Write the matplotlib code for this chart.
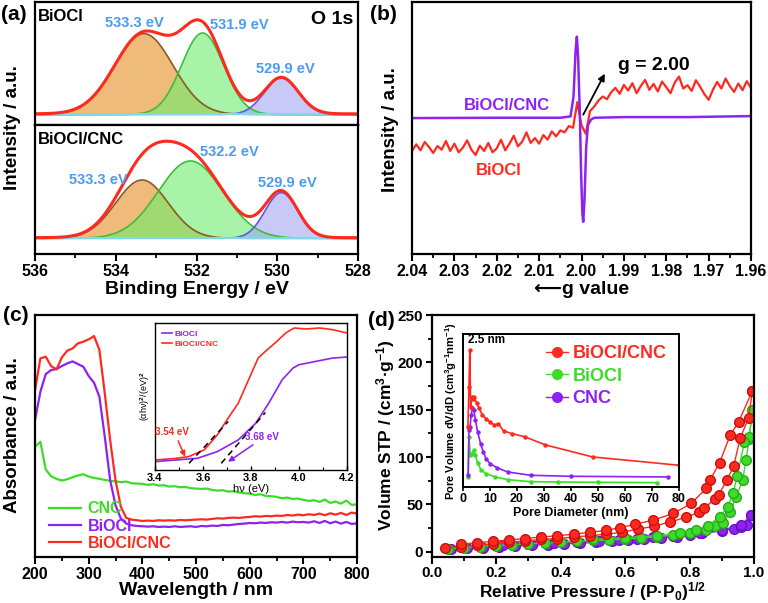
import numpy as np
import matplotlib

matplotlib.use("Agg")
import matplotlib.pyplot as plt
from matplotlib.lines import Line2D
from matplotlib.ticker import MultipleLocator

plt.rcParams["font.family"] = ["Liberation Sans", "DejaVu Sans"]
plt.rcParams["font.weight"] = "bold"
plt.rcParams["axes.labelweight"] = "bold"
plt.rcParams["axes.linewidth"] = 1.6
plt.rcParams["mathtext.fontset"] = "custom"
plt.rcParams["mathtext.rm"] = "Liberation Sans:bold"
plt.rcParams["mathtext.bf"] = "Liberation Sans:bold"
plt.rcParams["mathtext.it"] = "Liberation Sans:bold:italic"
plt.rcParams["mathtext.default"] = "bf"

RED = "#ff2a1f"
PURPLE = "#8e22f0"
GREEN = "#3ddc2a"
BLUE_TXT = "#4a9cf2"

# ---- (a) XPS O 1s: fitted peak parameters (center eV, height, sigma)
xps_top_centers = [533.3, 531.85, 529.9]
xps_top_heights = [246, 248, 111]
xps_top_sigmas = [0.72, 0.52, 0.42]
xps_bot_centers = [533.35, 532.15, 529.9]
xps_bot_heights = [175, 232, 137]
xps_bot_sigmas = [0.65, 0.80, 0.40]

# ---- (b) EPR
epr_red = [318, 338, 320, 345, 330, 312, 333, 322, 348, 318, 340, 314, 328, 350, 322, 306, 334, 318, 342, 314,
           326, 352, 320, 340, 364, 332, 346, 374, 342, 357, 340, 366, 352, 377, 362,
           380, 374, 393, 388, 465, 395, 370, 438,
           452, 470, 482, 474, 495, 508, 490, 517, 500, 522, 492, 514, 532, 502, 520, 497, 527, 510, 492, 524,
           542, 506, 516, 499, 531, 511, 489, 472, 502, 526, 506, 536, 513, 496, 521, 501, 528, 508]
epr_purple_g = [2.040, 2.020, 2.005, 2.0026, 2.0019, 2.0014, 2.0011, 2.0008, 2.0004, 2.0001, 1.9998, 1.9996,
                1.9993, 1.9989, 1.9985, 1.9978, 1.9970, 1.990, 1.975, 1.960]
epr_purple = [417, 418, 418, 422, 480, 620, 662, 600, 430, 250, 130, 105, 170, 330, 395, 412, 418, 420, 420, 423]

# ---- (c) UV-vis
wavelength = list(range(200, 801, 10))
uv_cnc = [330, 345, 262, 242, 234, 229, 233, 239, 244, 248,
          241, 237, 234, 231, 228, 227, 224, 226, 221, 220,
          219, 216, 218, 214, 215, 211, 212, 209, 210, 206,
          205, 204, 205, 201, 199, 200, 196, 197, 193, 191,
          190, 186, 188, 183, 182, 180, 176, 178, 174, 175,
          171, 168, 170, 165, 172, 162, 166, 160, 169, 156,
          158]
uv_biocl = [410, 495, 548, 560, 563, 572, 580, 586, 578, 570,
            542, 522, 480, 360, 230, 155, 115, 100, 95, 93,
            92, 91, 92, 90, 91, 90, 92, 90, 91, 92,
            90, 93, 92, 94, 93, 96, 95, 97, 99, 100,
            102, 101, 103, 102, 104, 103, 105, 103, 106, 104,
            105, 103, 107, 102, 108, 101, 106, 100, 105, 99,
            101]
uv_comp = [500, 595, 600, 572, 562, 598, 618, 625, 640, 645,
           652, 662, 620, 490, 350, 230, 150, 117, 112, 110,
           108, 109, 108, 110, 109, 110, 109, 111, 110, 111,
           112, 113, 112, 114, 116, 115, 117, 118, 117, 119,
           120, 122, 121, 123, 122, 124, 123, 126, 124, 127,
           125, 128, 126, 130, 125, 131, 127, 132, 126, 133,
           130]

# (c) inset Tauc plot
tauc_comp_x = [3.40, 3.478, 3.54, 3.605, 3.66, 3.70, 3.747, 3.79, 3.83, 3.86, 3.90, 3.945, 3.98, 4.03, 4.087, 4.14, 4.20]
tauc_comp_y = [30, 34, 40, 60, 105, 150, 200, 270, 335, 355, 380, 410, 425, 422, 425, 420, 410]
tauc_biocl_x = [3.40, 3.577, 3.66, 3.747, 3.82, 3.874, 3.93, 3.975, 4.00, 4.07, 4.14, 4.20]
tauc_biocl_y = [25, 35, 55, 90, 140, 200, 270, 305, 315, 325, 335, 338]
tangent_comp = ([3.542, 3.705], [20, 145])
tangent_biocl = ([3.676, 3.86], [20, 172])

# ---- (d) N2 isotherms
red_ads_x = [0.04, 0.09, 0.14, 0.19, 0.24, 0.29, 0.34, 0.39, 0.44, 0.49, 0.54, 0.59, 0.64, 0.69, 0.74,
             0.79, 0.83, 0.845, 0.88, 0.89, 0.916, 0.937, 0.957, 0.983, 0.995]
red_ads_y = [3.5, 5.5, 7.0, 8.5, 10.0, 11.5, 13.0, 14.0, 15.5, 17.0, 18.5, 20.5, 24.0, 27.0, 31.5,
             36.5, 42.0, 46.0, 56.0, 60.0, 75.7, 90.5, 120.0, 141.0, 170.0]
red_des_x = [0.995, 0.952, 0.926, 0.893, 0.864, 0.852, 0.805, 0.75, 0.688, 0.631, 0.585, 0.54, 0.49,
             0.44, 0.39, 0.34, 0.29, 0.24, 0.19, 0.14, 0.09]
red_des_y = [170.0, 137.0, 123.0, 94.0, 76.0, 67.0, 51.0, 40.5, 33.5, 29.0, 25.5, 22.5, 20.5,
             18.5, 17.0, 15.5, 14.0, 12.5, 11.0, 9.5, 8.0]
green_ads_x = [0.05, 0.10, 0.15, 0.20, 0.25, 0.30, 0.35, 0.40, 0.45, 0.50, 0.55, 0.60, 0.65, 0.70, 0.75,
               0.80, 0.85, 0.88, 0.905, 0.925, 0.945, 0.965, 0.975, 0.985, 0.995]
green_ads_y = [3, 4.5, 5.5, 6.5, 7.5, 8.5, 9.0, 10.0, 11.0, 12.0, 12.5, 13.5, 14.5, 16.0, 18.0,
               20.0, 23.0, 27.0, 30.0, 42.0, 58.0, 76.0, 97.0, 119.0, 150.0]
green_des_x = [0.995, 0.985, 0.97, 0.948, 0.935, 0.918, 0.893, 0.856, 0.82, 0.77, 0.70, 0.60, 0.50]
green_des_y = [150, 121, 116, 80, 62, 47, 37, 27, 23, 20, 17, 15, 13]
purple_ads_x = [0.06, 0.11, 0.16, 0.21, 0.26, 0.31, 0.36, 0.41, 0.46, 0.51, 0.56, 0.61, 0.66, 0.71,
                0.76, 0.80, 0.84, 0.90, 0.937, 0.96, 0.978, 0.991]
purple_ads_y = [2.5, 3.5, 4.5, 5.5, 6.0, 7.0, 7.5, 8.5, 9.0, 10.0, 11.0, 12.0, 13.0, 14.5,
                16.0, 18.0, 19.5, 22.0, 24.5, 26.5, 28.0, 39.0]
purple_des_x = [0.991, 0.96, 0.90, 0.833, 0.75, 0.688, 0.636, 0.58, 0.52, 0.45, 0.38, 0.30, 0.22, 0.15, 0.09]
purple_des_y = [39, 28, 23, 19.5, 17, 15.8, 13.5, 12.5, 11.5, 10.5, 9.5, 8.5, 7.5, 6.5, 5.5]

# (d) inset pore size distribution
psd_red_x = [1.8, 2.2, 2.5, 2.8, 3.2, 3.6, 4.2, 5.0, 6.0, 7.2, 8.5, 10.0, 11.5, 13.0, 15.0, 18.0, 23.0, 30.5, 48.0, 80.0]
psd_red_y = [180, 300, 410, 240, 270, 262, 268, 252, 235, 215, 205, 195, 185, 190, 168, 160, 150, 126, 90, 65]
psd_green_x = [1.9, 2.2, 2.7, 3.3, 4.0, 4.5, 5.4, 6.6, 8.5, 12.0, 16.5, 25.0, 35.0, 50.0, 72.0]
psd_green_y = [30, 150, 95, 100, 110, 95, 72, 52, 40, 30, 22, 16, 15, 14, 13]
psd_purple_x = [1.9, 2.2, 2.6, 3.0, 3.5, 4.0, 4.6, 5.4, 6.5, 7.5, 8.5, 10.0, 12.5, 16.5, 25.0, 40.0, 76.0]
psd_purple_y = [35, 170, 180, 215, 235, 230, 200, 165, 130, 105, 85, 70, 58, 45, 35, 32, 30]


def gauss(x, c, h, s):
    return h * np.exp(-(x - c) ** 2 / (2 * s ** 2))


def style_ticks(ax, direction="out", size=11.5):
    ax.tick_params(which="major", direction=direction, length=5, width=1.5, labelsize=size, pad=2.5)
    ax.tick_params(which="minor", direction=direction, length=3, width=1.3)
    for lab in ax.get_xticklabels() + ax.get_yticklabels():
        lab.set_fontweight("bold")


fig = plt.figure(figsize=(7.68, 6.03), dpi=100)

# ===================== (a) =====================
energy = np.linspace(536, 528, 600)
comp_fill = ["#eaa148", "#6cec6c", "#9e9ef4"]
comp_edge = ["#8a5a28", "#3dbd3d", "#5a5ae0"]
comp_alpha = [0.72, 0.6, 0.55]

ax_a1 = fig.add_axes([0.0456, 0.7927, 0.4206, 0.2043])
ax_a2 = fig.add_axes([0.0456, 0.5788, 0.4206, 0.2139], sharex=ax_a1)
for ax, cs, hs, ss, ylim in [
    (ax_a1, xps_top_centers, xps_top_heights, xps_top_sigmas, (-32, 343)),
    (ax_a2, xps_bot_centers, xps_bot_heights, xps_bot_sigmas, (-47, 340)),
]:
    total = np.zeros_like(energy)
    for c, h, s, fc, ec, al in zip(cs, hs, ss, comp_fill, comp_edge, comp_alpha):
        y = gauss(energy, c, h, s)
        total += y
        ax.fill_between(energy, 0, y, color=fc, alpha=al, lw=0)
        ax.plot(energy, y, color=ec, lw=1.2)
    ax.plot(energy, np.zeros_like(energy), color="#7fd7e8", lw=1.5)
    ax.plot(energy, total + 2, color=RED, lw=2.2)
    ax.set_ylim(*ylim)
    ax.set_yticks([])

ax_a1.set_xlim(536, 528)
ax_a1.tick_params(bottom=False, labelbottom=False)
ax_a2.xaxis.set_major_locator(MultipleLocator(2))
ax_a2.xaxis.set_minor_locator(MultipleLocator(1))
style_ticks(ax_a2)
ax_a2.set_xlabel("Binding Energy / eV", fontsize=14, labelpad=1)

ax_a1.text(535.93, 298, "BiOCl", fontsize=12, fontweight="bold", ha="left", va="center")
ax_a1.text(528.12, 288, "O 1s", fontsize=14, fontweight="bold", ha="right", va="center")
ax_a1.text(533.53, 278, "533.3 eV", fontsize=10.5, color=BLUE_TXT, fontweight="bold", ha="center", va="center")
ax_a1.text(530.94, 271, "531.9 eV", fontsize=10.5, color=BLUE_TXT, fontweight="bold", ha="center", va="center")
ax_a1.text(529.81, 138, "529.9 eV", fontsize=10.5, color=BLUE_TXT, fontweight="bold", ha="center", va="center")
ax_a2.text(535.93, 295, "BiOCl/CNC", fontsize=12, fontweight="bold", ha="left", va="center")
ax_a2.text(531.18, 260, "532.2 eV", fontsize=10.5, color=BLUE_TXT, fontweight="bold", ha="center", va="center")
ax_a2.text(534.43, 175, "533.3 eV", fontsize=10.5, color=BLUE_TXT, fontweight="bold", ha="center", va="center")
ax_a2.text(529.76, 167, "529.9 eV", fontsize=10.5, color=BLUE_TXT, fontweight="bold", ha="center", va="center")

fig.text(0.016, 1 - 128 / 603, "Intensity / a.u.", rotation=90, fontsize=13.5, fontweight="bold",
         ha="center", va="center")
fig.text(0.018, 1 - 14 / 603, "(a)", fontsize=15, fontweight="bold", ha="center", va="center")

# ===================== (b) =====================
ax_b = fig.add_axes([0.5365, 0.5788, 0.4414, 0.4182])
red_g = np.round(np.linspace(2.040, 1.960, len(epr_red)), 4)
ax_b.plot(red_g, epr_red, color=RED, lw=1.6)
ax_b.plot(epr_purple_g, epr_purple, color=PURPLE, lw=1.8)
ax_b.set_xlim(2.04, 1.96)
ax_b.set_ylim(8, 767)
ax_b.set_yticks([])
ax_b.set_xticks(np.round(np.arange(2.04, 1.955, -0.01), 2))
ax_b.set_xticklabels([f"{v:.2f}" for v in np.arange(2.04, 1.955, -0.01)])
ax_b.xaxis.set_minor_locator(MultipleLocator(0.005))
style_ticks(ax_b)
ax_b.set_xlabel("\u27f5g value", fontsize=14, labelpad=1)
ax_b.text(2.0175, 455, "BiOCl/CNC", color=PURPLE, fontsize=12, fontweight="bold", ha="center", va="center")
ax_b.text(2.0195, 260, "BiOCl", color=RED, fontsize=12, fontweight="bold", ha="center", va="center")
ax_b.text(1.9830, 575, "g = 2.00", fontsize=14, fontweight="bold", ha="center", va="center")
ax_b.annotate("", xy=(1.9942, 558), xytext=(1.9999, 420),
              arrowprops=dict(arrowstyle="-|>", color="black", lw=1.3, mutation_scale=10))
fig.text(0.509, 1 - 130 / 603, "Intensity / a.u.", rotation=90, fontsize=13.5, fontweight="bold",
         ha="center", va="center")
fig.text(0.499, 1 - 14 / 603, "(b)", fontsize=15, fontweight="bold", ha="center", va="center")

# ===================== (c) =====================
ax_c = fig.add_axes([0.0456, 0.0763, 0.4193, 0.4013])
ax_c.plot(wavelength, uv_cnc, color=GREEN, lw=1.6, label="CNC")
ax_c.plot(wavelength, uv_biocl, color=PURPLE, lw=1.6, label="BiOCl")
ax_c.plot(wavelength, uv_comp, color=RED, lw=1.6, label="BiOCl/CNC")
ax_c.set_xlim(200, 800)
ax_c.set_ylim(0, 725)
ax_c.set_yticks([])
ax_c.xaxis.set_major_locator(MultipleLocator(100))
ax_c.xaxis.set_minor_locator(MultipleLocator(50))
style_ticks(ax_c)
ax_c.set_xlabel("Wavelength / nm", fontsize=14, labelpad=0)
ax_c.legend(loc="lower left", bbox_to_anchor=(0.0, -0.035), frameon=False, handlelength=2.0,
            handletextpad=0.4, labelspacing=0.15, labelcolor="linecolor", prop={"weight": "bold", "size": 11.5})
fig.text(0.016, 1 - 435 / 603, "Absorbance / a.u.", rotation=90, fontsize=13.5, fontweight="bold",
         ha="center", va="center")
fig.text(0.020, 1 - 316 / 603, "(c)", fontsize=15, fontweight="bold", ha="center", va="center")

# inset
ax_ci = fig.add_axes([0.2018, 0.2206, 0.2500, 0.2438])
ax_ci.plot(tauc_biocl_x, tauc_biocl_y, color=PURPLE, lw=1.2, label="BiOCl")
ax_ci.plot(tauc_comp_x, tauc_comp_y, color=RED, lw=1.2, label="BiOCl/CNC")
ax_ci.plot(*tangent_comp, color="black", lw=1.1, ls=(0, (4, 3)))
ax_ci.plot(*tangent_biocl, color="black", lw=1.1, ls=(0, (4, 3)))
ax_ci.set_xlim(3.4, 4.2)
ax_ci.set_ylim(0, 440)
ax_ci.set_yticks([])
ax_ci.xaxis.set_major_locator(MultipleLocator(0.2))
ax_ci.xaxis.set_minor_locator(MultipleLocator(0.1))
ax_ci.tick_params(which="major", direction="in", length=3, width=1, labelsize=8, pad=2)
ax_ci.tick_params(which="minor", direction="in", length=2, width=0.8)
for s in ax_ci.spines.values():
    s.set_linewidth(1.0)
ax_ci.set_xlabel("h\u03bd (eV)", fontsize=8, fontweight="normal", labelpad=1)
ax_ci.set_ylabel("(\u03b1h\u03bd)$^{2}$/(eV)$^{2}$", fontsize=6.5, fontweight="normal", labelpad=2)
ax_ci.legend(loc="upper left", frameon=False, handlelength=1.2, handletextpad=0.3, labelspacing=0.2,
             labelcolor="linecolor", prop={"weight": "bold", "size": 6})
ax_ci.text(3.471, 115, "3.54 eV", color=RED, fontsize=7, fontweight="bold", ha="center", va="center")
ax_ci.annotate("", xy=(3.53, 32), xytext=(3.492, 95),
               arrowprops=dict(arrowstyle="-|>", color=RED, lw=1.1, mutation_scale=8))
ax_ci.text(3.846, 98, "3.68 eV", color=PURPLE, fontsize=7, fontweight="bold", ha="center", va="center")
ax_ci.annotate("", xy=(3.695, 20), xytext=(3.818, 80),
               arrowprops=dict(arrowstyle="-|>", color=PURPLE, lw=1.1, mutation_scale=8))

# ===================== (d) =====================
ax_d = fig.add_axes([0.5621, 0.0771, 0.4197, 0.4005])
mk = dict(marker="o", markersize=7, lw=1.0)
ax_d.plot(purple_ads_x, purple_ads_y, color=PURPLE, mec="#6a10c0", **mk)
ax_d.plot(purple_des_x, purple_des_y, color=PURPLE, mec="#6a10c0", **mk)
ax_d.plot(green_ads_x, green_ads_y, color=GREEN, mec="#28a818", **mk)
ax_d.plot(green_des_x, green_des_y, color=GREEN, mec="#28a818", **mk)
ax_d.plot(red_ads_x, red_ads_y, color=RED, mec="#c81010", **mk)
ax_d.plot(red_des_x, red_des_y, color=RED, mec="#c81010", **mk)
ax_d.set_xlim(0, 1.0)
ax_d.set_ylim(-5, 250)
ax_d.xaxis.set_major_locator(MultipleLocator(0.2))
ax_d.xaxis.set_minor_locator(MultipleLocator(0.1))
ax_d.yaxis.set_major_locator(MultipleLocator(50))
ax_d.yaxis.set_minor_locator(MultipleLocator(25))
style_ticks(ax_d, size=11)
ax_d.tick_params(axis="y", which="major", length=4, pad=2)
ax_d.tick_params(axis="x", which="major", pad=1.5)
ax_d.set_xlabel("Relative Pressure / (P\u00b7P$_{0}$)$^{1/2}$", fontsize=12.5, labelpad=0.5)
fig.text(0.5026, 1 - 435 / 603, "Volume STP / (cm$^{3}$\u00b7g$^{-1}$)", rotation=90, fontsize=12.5,
         fontweight="bold", ha="center", va="center")
fig.text(0.497, 1 - 320 / 603, "(d)", fontsize=15, fontweight="bold", ha="center", va="center")

handles = [Line2D([], [], color=c, marker="o", markersize=7, lw=1.0) for c in (RED, GREEN, PURPLE)]
fig.legend(handles, ["BiOCl/CNC", "BiOCl", "CNC"], loc="upper left", bbox_to_anchor=(0.690, 0.4545),
           frameon=False, handlelength=1.2, handletextpad=0.25, labelspacing=0.3, labelcolor="linecolor",
           prop={"weight": "bold", "size": 13})

# inset
ax_di = fig.add_axes([0.6029, 0.1924, 0.28125, 0.2537])
smk = dict(marker="o", markersize=2.2, lw=1.2)
ax_di.plot(psd_green_x, psd_green_y, color=GREEN, **smk)
ax_di.plot(psd_purple_x, psd_purple_y, color=PURPLE, **smk)
ax_di.plot(psd_red_x, psd_red_y, color=RED, **smk)
ax_di.set_xlim(0, 80)
ax_di.set_ylim(0, 458)
ax_di.set_yticks([])
ax_di.xaxis.set_major_locator(MultipleLocator(10))
ax_di.tick_params(which="major", direction="out", length=3, width=1.2, labelsize=9, pad=1.5)
for lab in ax_di.get_xticklabels():
    lab.set_fontweight("bold")
for s in ax_di.spines.values():
    s.set_linewidth(1.4)
ax_di.set_xlabel("Pore Diameter (nm)", fontsize=9, labelpad=1)
ax_di.set_ylabel("Pore Volume dV/dD (cm$^{3}$g$^{-1}$nm$^{-1}$)", fontsize=8, labelpad=3)
ax_di.text(2.0, 440, "2.5 nm", fontsize=8.5, fontweight="bold", ha="left", va="center")

fig.savefig("out.png", dpi=100)
plt.close(fig)
